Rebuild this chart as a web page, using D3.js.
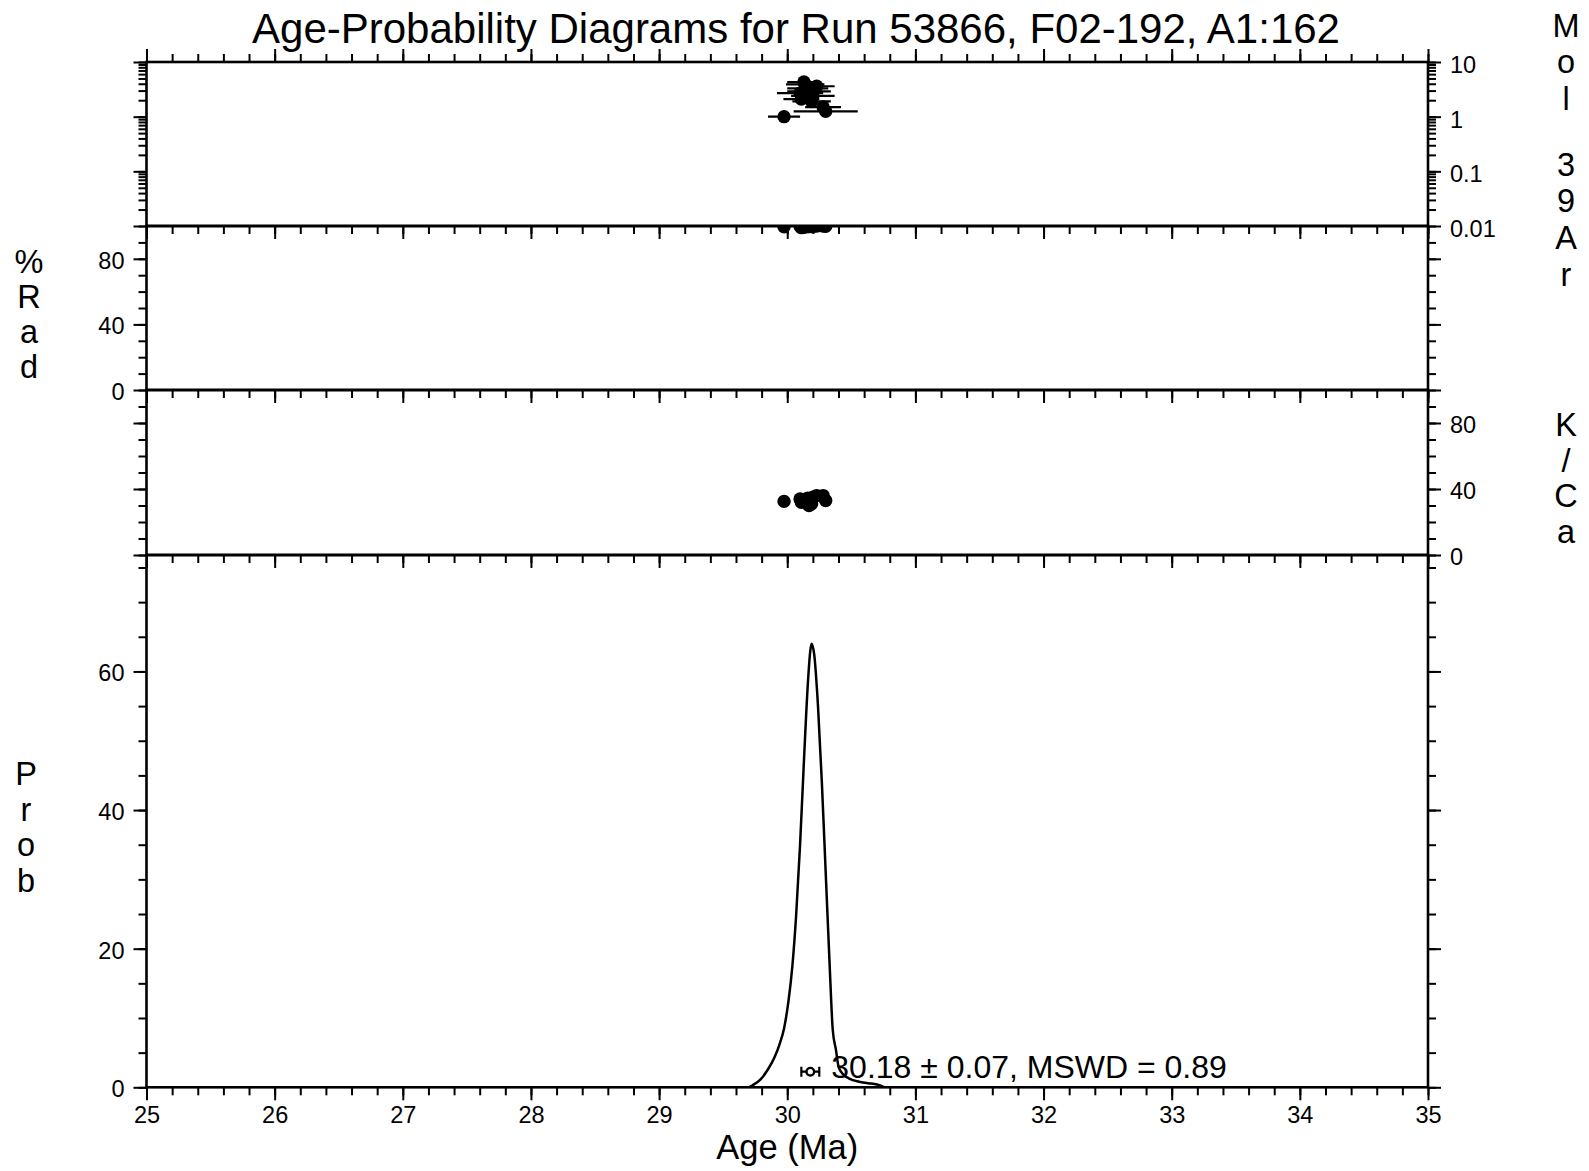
<!DOCTYPE html>
<html>
<head>
<meta charset="utf-8">
<script src="https://cdn.jsdelivr.net/npm/d3@7"></script>
<style>
  body { margin: 0; background: #fff; }
  text { font-family: "Liberation Sans", Arial, Helvetica, sans-serif; fill: #000; }
</style>
</head>
<body>
<div id="chart"></div>
<script>
// Data
const title = 'Age-Probability Diagrams for Run 53866, F02-192, A1:162'

const ageTicks = [25, 26, 27, 28, 29, 30, 31, 32, 33, 34, 35]
const molTicks = [0.01, 0.1, 1, 10]
const pctTicks = [0, 40, 80]
const probTicks = [0, 20, 40, 60]

// single steps
const ages   = [29.975, 30.30, 30.28, 30.19, 30.11, 30.17, 30.10, 30.23, 30.13, 30.16, 30.20, 30.14]
const ageErr = [0.125, 0.25, 0.14, 0.15, 0.14, 0.17, 0.18, 0.14, 0.13, 0.16, 0.17, 0.15]
const mol39  = [1.0, 1.25, 1.5, 1.9, 2.1, 2.9, 2.7, 3.6, 4.3, 3.3, 2.4, 3.9]
const radPct = [99.5, 99.8, 100, 99.6, 99.0, 99.7, 99.9, 100, 99.3, 99.6, 99.8, 99.5]
const kca    = [32.5, 33, 36, 31, 32, 30, 34, 36, 33, 34.5, 35, 33]

// probability curve
const probAge = [29.70, 29.73, 29.79, 29.85, 29.90, 29.94, 29.975, 30.01, 30.04, 30.07, 30.10, 30.13, 30.16, 30.18, 30.19,
                 30.21, 30.24, 30.27, 30.30, 30.33, 30.355, 30.38, 30.40, 30.44, 30.48, 30.56, 30.63, 30.70, 30.76]
const probVal = [0, 0.3, 1.1, 2.6, 4.3, 6.2, 8.5, 12.5, 17.5, 25, 35, 47, 58, 63, 64,
                 62.5, 55, 44, 31, 18, 8.3, 5.4, 3.0, 1.8, 1.3, 0.8, 0.6, 0.4, 0]

const meanAge = 30.18
const meanErr = 0.07
const meanY = 2.25
const mswd = 0.89

// Dimensions
const W = 1589, H = 1171
const left = 146.5, right = 1428
const p1 = [62, 226], p2 = [226, 390], p3 = [390, 555], p4 = [555, 1087.3]
const major = 13, minor = 8
const font = '"Liberation Sans", Arial, Helvetica, sans-serif'

const svg = d3.select('#chart')
  .append('svg')
  .attr('width', W)
  .attr('height', H)

// scales
const x = d3.scaleLinear().domain([25, 35]).range([left, right])
const yMol = d3.scaleLog().domain([0.01, 10]).range([p1[1], p1[0]])
const yRad = d3.scaleLinear().domain([0, 100]).range([p2[1], p2[0]])
const yKca = d3.scaleLinear().domain([0, 100]).range([p3[1], p3[0]])
const yProb = d3.scaleLinear().domain([0, 76.8]).range([p4[1], p4[0]])

const xMinor = d3.range(25, 35.001, 0.2)

function axis(fn, scale, vals, size, labels, pos) {
  const g = svg.append('g')
    .attr('transform', pos)
    .call(fn(scale).tickValues(vals).tickSize(size).tickSizeOuter(0)
      .tickPadding(labels ? 9 : 0)
      .tickFormat(labels ? (d => String(d)) : ''))
  g.select('.domain').remove()
  g.selectAll('line').attr('stroke', '#000').attr('stroke-width', 2)
  g.attr('font-size', 23.5).attr('font-family', font)
  return g
}

// x ticks: top outward, panel bottoms downward
axis(d3.axisTop, x, xMinor, minor, false, `translate(0,${p1[0]})`)
axis(d3.axisTop, x, ageTicks, major, false, `translate(0,${p1[0]})`)
;[p1[1], p2[1], p3[1]].forEach(y => {
  axis(d3.axisBottom, x, xMinor, minor, false, `translate(0,${y})`)
  axis(d3.axisBottom, x, ageTicks, major, false, `translate(0,${y})`)
})
axis(d3.axisBottom, x, xMinor, minor, false, `translate(0,${p4[1]})`)
axis(d3.axisBottom, x, ageTicks, major, true, `translate(0,${p4[1]})`)
  .selectAll('text').attr('dy', '0.58em')

// panel 1: log Mol 39Ar, labels right
const molMinor = yMol.ticks()
axis(d3.axisLeft, yMol, molMinor, minor, false, `translate(${left},0)`)
axis(d3.axisLeft, yMol, molTicks, major, false, `translate(${left},0)`)
axis(d3.axisRight, yMol, molMinor, minor, false, `translate(${right},0)`)
axis(d3.axisRight, yMol, molTicks, major, true, `translate(${right},0)`)
  .selectAll('text').attr('dy', '0.44em')

// panel 2: %Rad, labels left
const pctMinor = d3.range(0, 100, 10)
axis(d3.axisLeft, yRad, pctMinor, minor, false, `translate(${left},0)`)
axis(d3.axisLeft, yRad, pctTicks, major, true, `translate(${left},0)`)
  .selectAll('text').attr('dy', '0.4em')
axis(d3.axisRight, yRad, pctMinor, minor, false, `translate(${right},0)`)
axis(d3.axisRight, yRad, pctTicks, major, false, `translate(${right},0)`)

// panel 3: K/Ca, labels right
axis(d3.axisLeft, yKca, pctMinor, minor, false, `translate(${left},0)`)
axis(d3.axisLeft, yKca, pctTicks, major, false, `translate(${left},0)`)
axis(d3.axisRight, yKca, pctMinor, minor, false, `translate(${right},0)`)
axis(d3.axisRight, yKca, pctTicks, major, true, `translate(${right},0)`)
  .selectAll('text').attr('dy', '0.4em')

// panel 4: Prob, labels left
const probMinor = d3.range(0, 76.8, 5)
axis(d3.axisLeft, yProb, probMinor, minor, false, `translate(${left},0)`)
axis(d3.axisLeft, yProb, probTicks, major, true, `translate(${left},0)`)
  .selectAll('text').attr('dy', '0.4em')
axis(d3.axisRight, yProb, probMinor, minor, false, `translate(${right},0)`)
axis(d3.axisRight, yProb, probTicks, major, false, `translate(${right},0)`)

// clip paths
const defs = svg.append('defs')
;[p1, p2, p3, p4].forEach((p, i) => {
  defs.append('clipPath').attr('id', 'clip' + i)
    .append('rect')
    .attr('x', left).attr('y', p[0])
    .attr('width', right - left).attr('height', p[1] - p[0])
})

const steps = ages.map((a, i) => ({age: a, err: ageErr[i], mol: mol39[i], rad: radPct[i], kca: kca[i]}))
const r = 6.7

// Mol 39Ar with error bars
const g1 = svg.append('g').attr('clip-path', 'url(#clip0)')
g1.selectAll('line')
  .data(steps)
  .join('line')
  .attr('x1', d => x(d.age - d.err))
  .attr('x2', d => x(d.age + d.err))
  .attr('y1', d => yMol(d.mol))
  .attr('y2', d => yMol(d.mol))
  .attr('stroke', '#000')
  .attr('stroke-width', 2.2)
g1.selectAll('circle')
  .data(steps)
  .join('circle')
  .attr('cx', d => x(d.age))
  .attr('cy', d => yMol(d.mol))
  .attr('r', r)
  .attr('fill', '#000')

// %Rad
svg.append('g').attr('clip-path', 'url(#clip1)')
  .selectAll('circle')
  .data(steps)
  .join('circle')
  .attr('cx', d => x(d.age))
  .attr('cy', d => yRad(d.rad))
  .attr('r', r)
  .attr('fill', '#000')

// K/Ca
svg.append('g').attr('clip-path', 'url(#clip2)')
  .selectAll('circle')
  .data(steps)
  .join('circle')
  .attr('cx', d => x(d.age))
  .attr('cy', d => yKca(d.kca))
  .attr('r', r)
  .attr('fill', '#000')

// probability curve
const curve = probAge.map((a, i) => [a, probVal[i]])
const g4 = svg.append('g').attr('clip-path', 'url(#clip3)')
g4.append('path')
  .datum(curve)
  .attr('fill', 'none')
  .attr('stroke', '#000')
  .attr('stroke-width', 2.5)
  .attr('stroke-linejoin', 'round')
  .attr('d', d3.line().x(d => x(d[0])).y(d => yProb(d[1])).curve(d3.curveMonotoneX))

// weighted mean marker
const my = yProb(meanY)
g4.append('line')
  .attr('x1', x(meanAge - meanErr)).attr('x2', x(meanAge + meanErr))
  .attr('y1', my).attr('y2', my)
  .attr('stroke', '#000').attr('stroke-width', 2.2)
;[meanAge - meanErr, meanAge + meanErr].forEach(a => {
  g4.append('line')
    .attr('x1', x(a)).attr('x2', x(a))
    .attr('y1', my - 5).attr('y2', my + 5)
    .attr('stroke', '#000').attr('stroke-width', 2.2)
})
g4.append('circle')
  .attr('cx', x(meanAge)).attr('cy', my).attr('r', 3.8)
  .attr('fill', '#fff').attr('stroke', '#000').attr('stroke-width', 2.4)

svg.append('text')
  .attr('x', x(meanAge + meanErr) + 12)
  .attr('y', my + 6)
  .attr('font-size', 32)
  .text(`${meanAge.toFixed(2)} ± ${meanErr.toFixed(2)}, MSWD = ${mswd.toFixed(2)}`)

// frames
;[p1, p2, p3, p4].forEach(p => {
  svg.append('rect')
    .attr('x', left).attr('y', p[0])
    .attr('width', right - left).attr('height', p[1] - p[0])
    .attr('fill', 'none')
    .attr('stroke', '#000')
    .attr('stroke-width', 2.6)
})

// titles
svg.append('text')
  .attr('x', 796).attr('y', 43)
  .attr('text-anchor', 'middle')
  .attr('font-size', 42)
  .text(title)

svg.append('text')
  .attr('x', (left + right) / 2).attr('y', 1159)
  .attr('text-anchor', 'middle')
  .attr('font-size', 34.5)
  .text('Age (Ma)')

function stacked(letters, cx, y0, step) {
  svg.append('g')
    .selectAll('text')
    .data(letters)
    .join('text')
    .attr('x', cx)
    .attr('y', (d, i) => y0 + i * step)
    .attr('text-anchor', 'middle')
    .attr('font-size', 32.5)
    .text(d => d)
}

stacked(['M', 'o', 'l'], 1566, 36.5, 36.6)
stacked(['3', '9', 'A', 'r'], 1566, 175.5, 36.7)
stacked(['K', '/', 'C', 'a'], 1566, 436, 35.5)
stacked(['%', 'R', 'a', 'd'], 29, 272.5, 35)
stacked(['P', 'r', 'o', 'b'], 26, 785.4, 35.5)
</script>
</body>
</html>
